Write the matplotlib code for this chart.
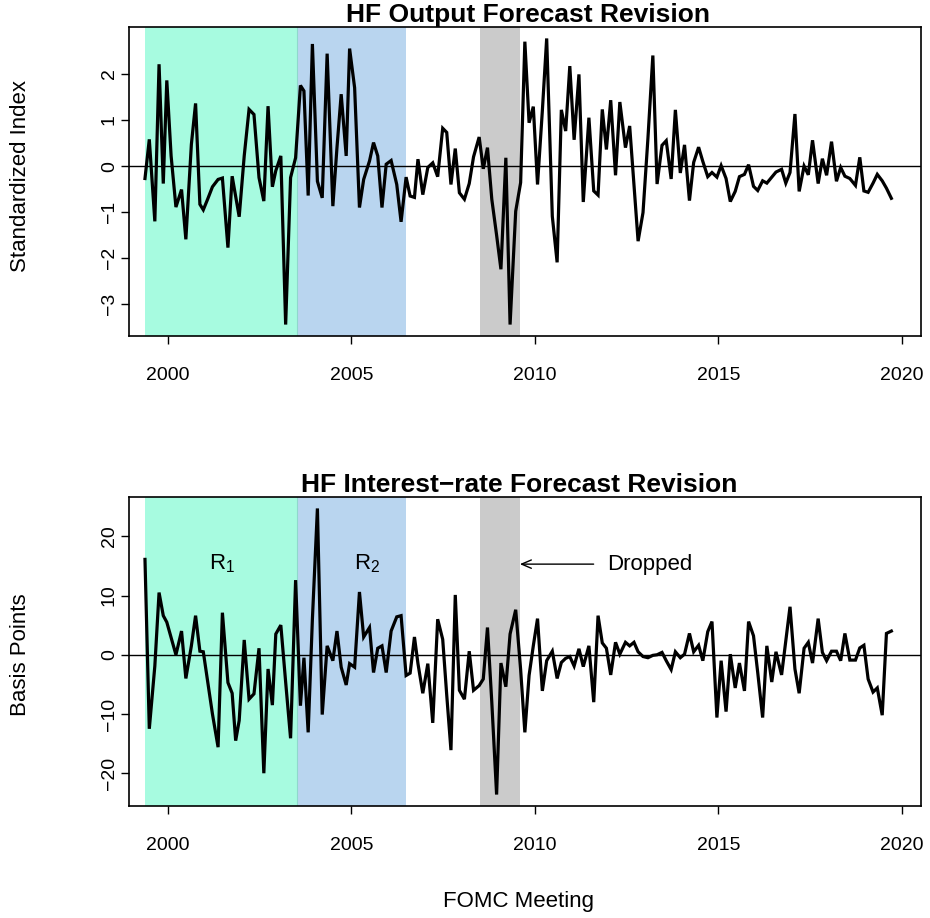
import matplotlib
matplotlib.use("Agg")
import matplotlib.pyplot as plt
import pandas as pd

plt.rcParams['font.family'] = ['Liberation Sans', 'DejaVu Sans']
plt.rcParams['mathtext.fontset'] = 'custom'
plt.rcParams['mathtext.rm'] = 'Liberation Sans'
plt.rcParams['mathtext.it'] = 'Liberation Sans:italic'

# FOMC scheduled meeting dates
meeting_dates = [
    "1999-05-18", "1999-06-30", "1999-08-24", "1999-10-05", "1999-11-16", "1999-12-21",
    "2000-02-02", "2000-03-21", "2000-05-16", "2000-06-28", "2000-08-22", "2000-10-03", "2000-11-15", "2000-12-19",
    "2001-01-31", "2001-03-20", "2001-05-15", "2001-06-27", "2001-08-21", "2001-10-02", "2001-11-06", "2001-12-11",
    "2002-01-30", "2002-03-19", "2002-05-07", "2002-06-26", "2002-08-13", "2002-09-24", "2002-11-06", "2002-12-10",
    "2003-01-29", "2003-03-18", "2003-05-06", "2003-06-25", "2003-08-12", "2003-09-16", "2003-10-28", "2003-12-09",
    "2004-01-28", "2004-03-16", "2004-05-04", "2004-06-30", "2004-08-10", "2004-09-21", "2004-11-10", "2004-12-14",
    "2005-02-02", "2005-03-22", "2005-05-03", "2005-06-30", "2005-08-09", "2005-09-20", "2005-11-01", "2005-12-13",
    "2006-01-31", "2006-03-28", "2006-05-10", "2006-06-29", "2006-08-08", "2006-09-20", "2006-10-25", "2006-12-12",
    "2007-01-31", "2007-03-21", "2007-05-09", "2007-06-28", "2007-08-07", "2007-09-18", "2007-10-31", "2007-12-11",
    "2008-01-30", "2008-03-18", "2008-04-30", "2008-06-25", "2008-08-05", "2008-09-16", "2008-10-29", "2008-12-16",
    "2009-01-28", "2009-03-18", "2009-04-29", "2009-06-24", "2009-08-12", "2009-09-23", "2009-11-04", "2009-12-16",
    "2010-01-27", "2010-03-16", "2010-04-28", "2010-06-23", "2010-08-10", "2010-09-21", "2010-11-03", "2010-12-14",
    "2011-01-26", "2011-03-15", "2011-04-27", "2011-06-22", "2011-08-09", "2011-09-21", "2011-11-02", "2011-12-13",
    "2012-01-25", "2012-03-13", "2012-04-25", "2012-06-20", "2012-08-01", "2012-09-13", "2012-10-24", "2012-12-12",
    "2013-01-30", "2013-03-20", "2013-05-01", "2013-06-19", "2013-07-31", "2013-09-18", "2013-10-30", "2013-12-18",
    "2014-01-29", "2014-03-19", "2014-04-30", "2014-06-18", "2014-07-30", "2014-09-17", "2014-10-29", "2014-12-17",
    "2015-01-28", "2015-03-18", "2015-04-29", "2015-06-17", "2015-07-29", "2015-09-17", "2015-10-28", "2015-12-16",
    "2016-01-27", "2016-03-16", "2016-04-27", "2016-06-15", "2016-07-27", "2016-09-21", "2016-11-02", "2016-12-14",
    "2017-02-01", "2017-03-15", "2017-05-03", "2017-06-14", "2017-07-26", "2017-09-20", "2017-11-01", "2017-12-13",
    "2018-01-31", "2018-03-21", "2018-05-02", "2018-06-13", "2018-08-01", "2018-09-26", "2018-11-08", "2018-12-19",
    "2019-01-30", "2019-03-20", "2019-05-01", "2019-06-19", "2019-07-31", "2019-09-18",
]

# HF output forecast revision (standardized index)
output_revision = [
    -0.27, 0.58, -1.20, 2.21, -0.38, 1.86,
    0.22, -0.89, -0.51, -1.59, 0.47, 1.36, -0.83, -0.95,
    -0.72, -0.45, -0.29, -0.26, -1.77, -0.22, -0.66, -1.10,
    0.22, 1.23, 1.12, -0.25, -0.76, 1.30, -0.45, -0.10,
    0.22, -3.44, -0.25, 0.18, 1.75, 1.63, -0.64, 2.65,
    -0.33, -0.69, 2.44, -0.87, 0.40, 1.56, 0.22, 2.55,
    1.70, -0.90, -0.29, 0.11, 0.51, 0.22, -0.90, 0.04,
    0.12, -0.40, -1.21, -0.24, -0.65, -0.68, 0.15, -0.62,
    -0.03, 0.07, -0.23, 0.82, 0.73, -0.40, 0.38, -0.58,
    -0.72, -0.38, 0.20, 0.63, -0.06, 0.40, -0.72, -1.50,
    -2.24, 0.18, -3.44, -0.98, -0.36, 2.70, 0.94, 1.29,
    -0.40, 1.20, 2.77, -1.09, -2.09, 1.22, 0.76, 2.17,
    0.57, 1.99, -0.78, 1.05, -0.54, -0.63, 1.23, 0.36,
    1.43, -0.20, 1.39, 0.40, 0.87, -0.40, -1.63, -1.01,
    0.60, 2.40, -0.39, 0.45, 0.55, -0.28, 1.22, -0.15,
    0.46, -0.75, 0.08, 0.41, 0.10, -0.23, -0.14, -0.24,
    0.01, -0.27, -0.77, -0.55, -0.23, -0.18, 0.03, -0.44,
    -0.53, -0.32, -0.37, -0.24, -0.13, -0.07, -0.37, -0.14,
    1.13, -0.55, 0.00, -0.19, 0.56, -0.38, 0.16, -0.20,
    0.53, -0.33, -0.03, -0.22, -0.27, -0.42, 0.19, -0.54,
    -0.57, -0.37, -0.18, -0.32, -0.48, -0.70,
]

# HF interest-rate forecast revision (basis points)
rate_revision = [
    16.1, -12.5, -1.9, 10.5, 6.6, 5.5,
    2.9, 0.0, 4.0, -4.0, 1.5, 6.6, 0.6, 0.5,
    -4.5, -10.0, -15.6, 7.1, -4.7, -6.5, -14.5, -11.1,
    2.5, -7.5, -6.6, 1.1, -20.0, -2.4, -8.5, 3.5,
    5.0, -4.6, -14.1, 12.6, -8.6, -0.5, -13.1, 6.0,
    24.7, -10.1, 1.5, -1.0, 4.0, -2.1, -5.1, -1.5,
    -2.1, 10.6, 3.0, 4.6, -3.0, 1.1, 1.5, -3.0,
    4.0, 6.4, 6.6, -3.5, -3.1, 3.0, -1.5, -6.5,
    -1.5, -11.5, 6.0, 2.6, -6.8, -16.1, 10.1, -6.0,
    -7.5, 0.6, -6.0, -5.2, -4.1, 4.6, -8.0, -23.6,
    -1.4, -5.4, 3.5, 7.6, -2.5, -13.1, -3.5, 1.5,
    6.1, -6.1, -1.0, 0.6, -4.0, -1.3, -0.6, -0.3,
    -1.9, 1.0, -2.0, 1.5, -8.0, 6.6, 2.0, 1.1,
    -3.4, 2.1, 0.1, 2.1, 1.5, 2.1, 0.5, -0.3,
    -0.5, -0.1, 0.0, 0.4, -1.0, -2.5, 0.5, -0.5,
    0.1, 3.6, 0.5, 1.6, -1.0, 3.9, 5.6, -10.6,
    -1.0, -9.6, 0.1, -5.6, -1.4, -6.1, 5.6, 3.2,
    -3.0, -10.6, 1.5, -4.6, 0.5, -3.4, 2.3, 8.1,
    -2.4, -6.5, 1.1, 2.1, -1.4, 6.1, 0.4, -1.0,
    0.6, 0.6, -1.0, 3.6, -0.9, -0.9, 1.15, 1.6,
    -4.1, -6.3, -5.6, -10.2, 3.6, 4.0,
]

# shaded periods (decimal years)
regime1 = (1999.375, 2003.52)
regime2 = (2003.52, 2006.49)
dropped = (2008.50, 2009.59)

x_ticks = [2000, 2005, 2010, 2015, 2020]
top_yticks = [-3, -2, -1, 0, 1, 2]
bot_yticks = [-20, -10, 0, 10, 20]

d = pd.to_datetime(pd.Series(meeting_dates))
days_in_year = d.dt.is_leap_year.map({True: 366, False: 365})
years = (d.dt.year + (d.dt.dayofyear - 1) / days_in_year).to_numpy()

W, H = 930, 918
fig = plt.figure(figsize=(W / 100, H / 100), dpi=100)
ax1 = fig.add_axes([129 / W, 1 - 336 / H, (921 - 129) / W, 309 / H])
ax2 = fig.add_axes([129 / W, 1 - 806 / H, (921 - 129) / W, 309 / H])

green = '#a7fbe0'
blue = '#b9d5ef'
gray = '#cbcbcb'

for ax, vals, yt in [(ax1, output_revision, top_yticks), (ax2, rate_revision, bot_yticks)]:
    ax.axvspan(*regime1, color=green, lw=0, zorder=0)
    ax.axvspan(*regime2, color=blue, lw=0, zorder=0)
    ax.axvline(regime1[1], color='#8fd8cc', lw=0.8, zorder=0.5)
    ax.axvspan(*dropped, color=gray, lw=0, zorder=0)
    ax.axhline(0, color='black', lw=1.0, zorder=1)
    ax.plot(years, vals, color='black', lw=2.3, solid_joinstyle='miter', zorder=2)
    ax.set_xlim(1998.94, 2020.52)
    ax.margins(y=0.04)
    ax.set_xticks(x_ticks)
    ax.set_xticklabels([str(t) for t in x_ticks])
    ax.set_yticks(yt)
    ax.set_yticklabels([str(t).replace('-', '\u2212') for t in yt], rotation=90, va='center')
    ax.tick_params(axis='both', direction='out', length=6, width=1, labelsize=14, color='black')
    ax.tick_params(axis='x', pad=16)
    ax.tick_params(axis='y', pad=2)
    for s in ax.spines.values():
        s.set_linewidth(1.2)
        s.set_color('black')

fig.text(528 / W, 1 - 15 / H, 'HF Output Forecast Revision', ha='center', va='center',
         fontsize=19, fontweight='bold')
fig.text(519 / W, 1 - 485 / H, 'HF Interest\u2212rate Forecast Revision', ha='center', va='center',
         fontsize=19, fontweight='bold')
fig.text(20 / W, 1 - 176 / H, 'Standardized Index', rotation=90, ha='center', va='center', fontsize=16)
fig.text(20 / W, 1 - 655 / H, 'Basis Points', rotation=90, ha='center', va='center', fontsize=16)
fig.text(518 / W, 1 - 902 / H, 'FOMC Meeting', ha='center', va='center', fontsize=16)

ax2.text(2001.47, 15.3, r'$\mathrm{R}_1$', ha='center', va='center', fontsize=16)
ax2.text(2005.42, 15.3, r'$\mathrm{R}_2$', ha='center', va='center', fontsize=16)
ax2.annotate('', xy=(dropped[1], 15.3), xytext=(2011.6, 15.3),
             arrowprops=dict(arrowstyle='->,head_length=0.7,head_width=0.3', lw=1.0, color='black',
                             shrinkA=0, shrinkB=0))
ax2.text(2011.97, 15.3, 'Dropped', ha='left', va='center', fontsize=16)

fig.savefig('out.png', dpi=100)
